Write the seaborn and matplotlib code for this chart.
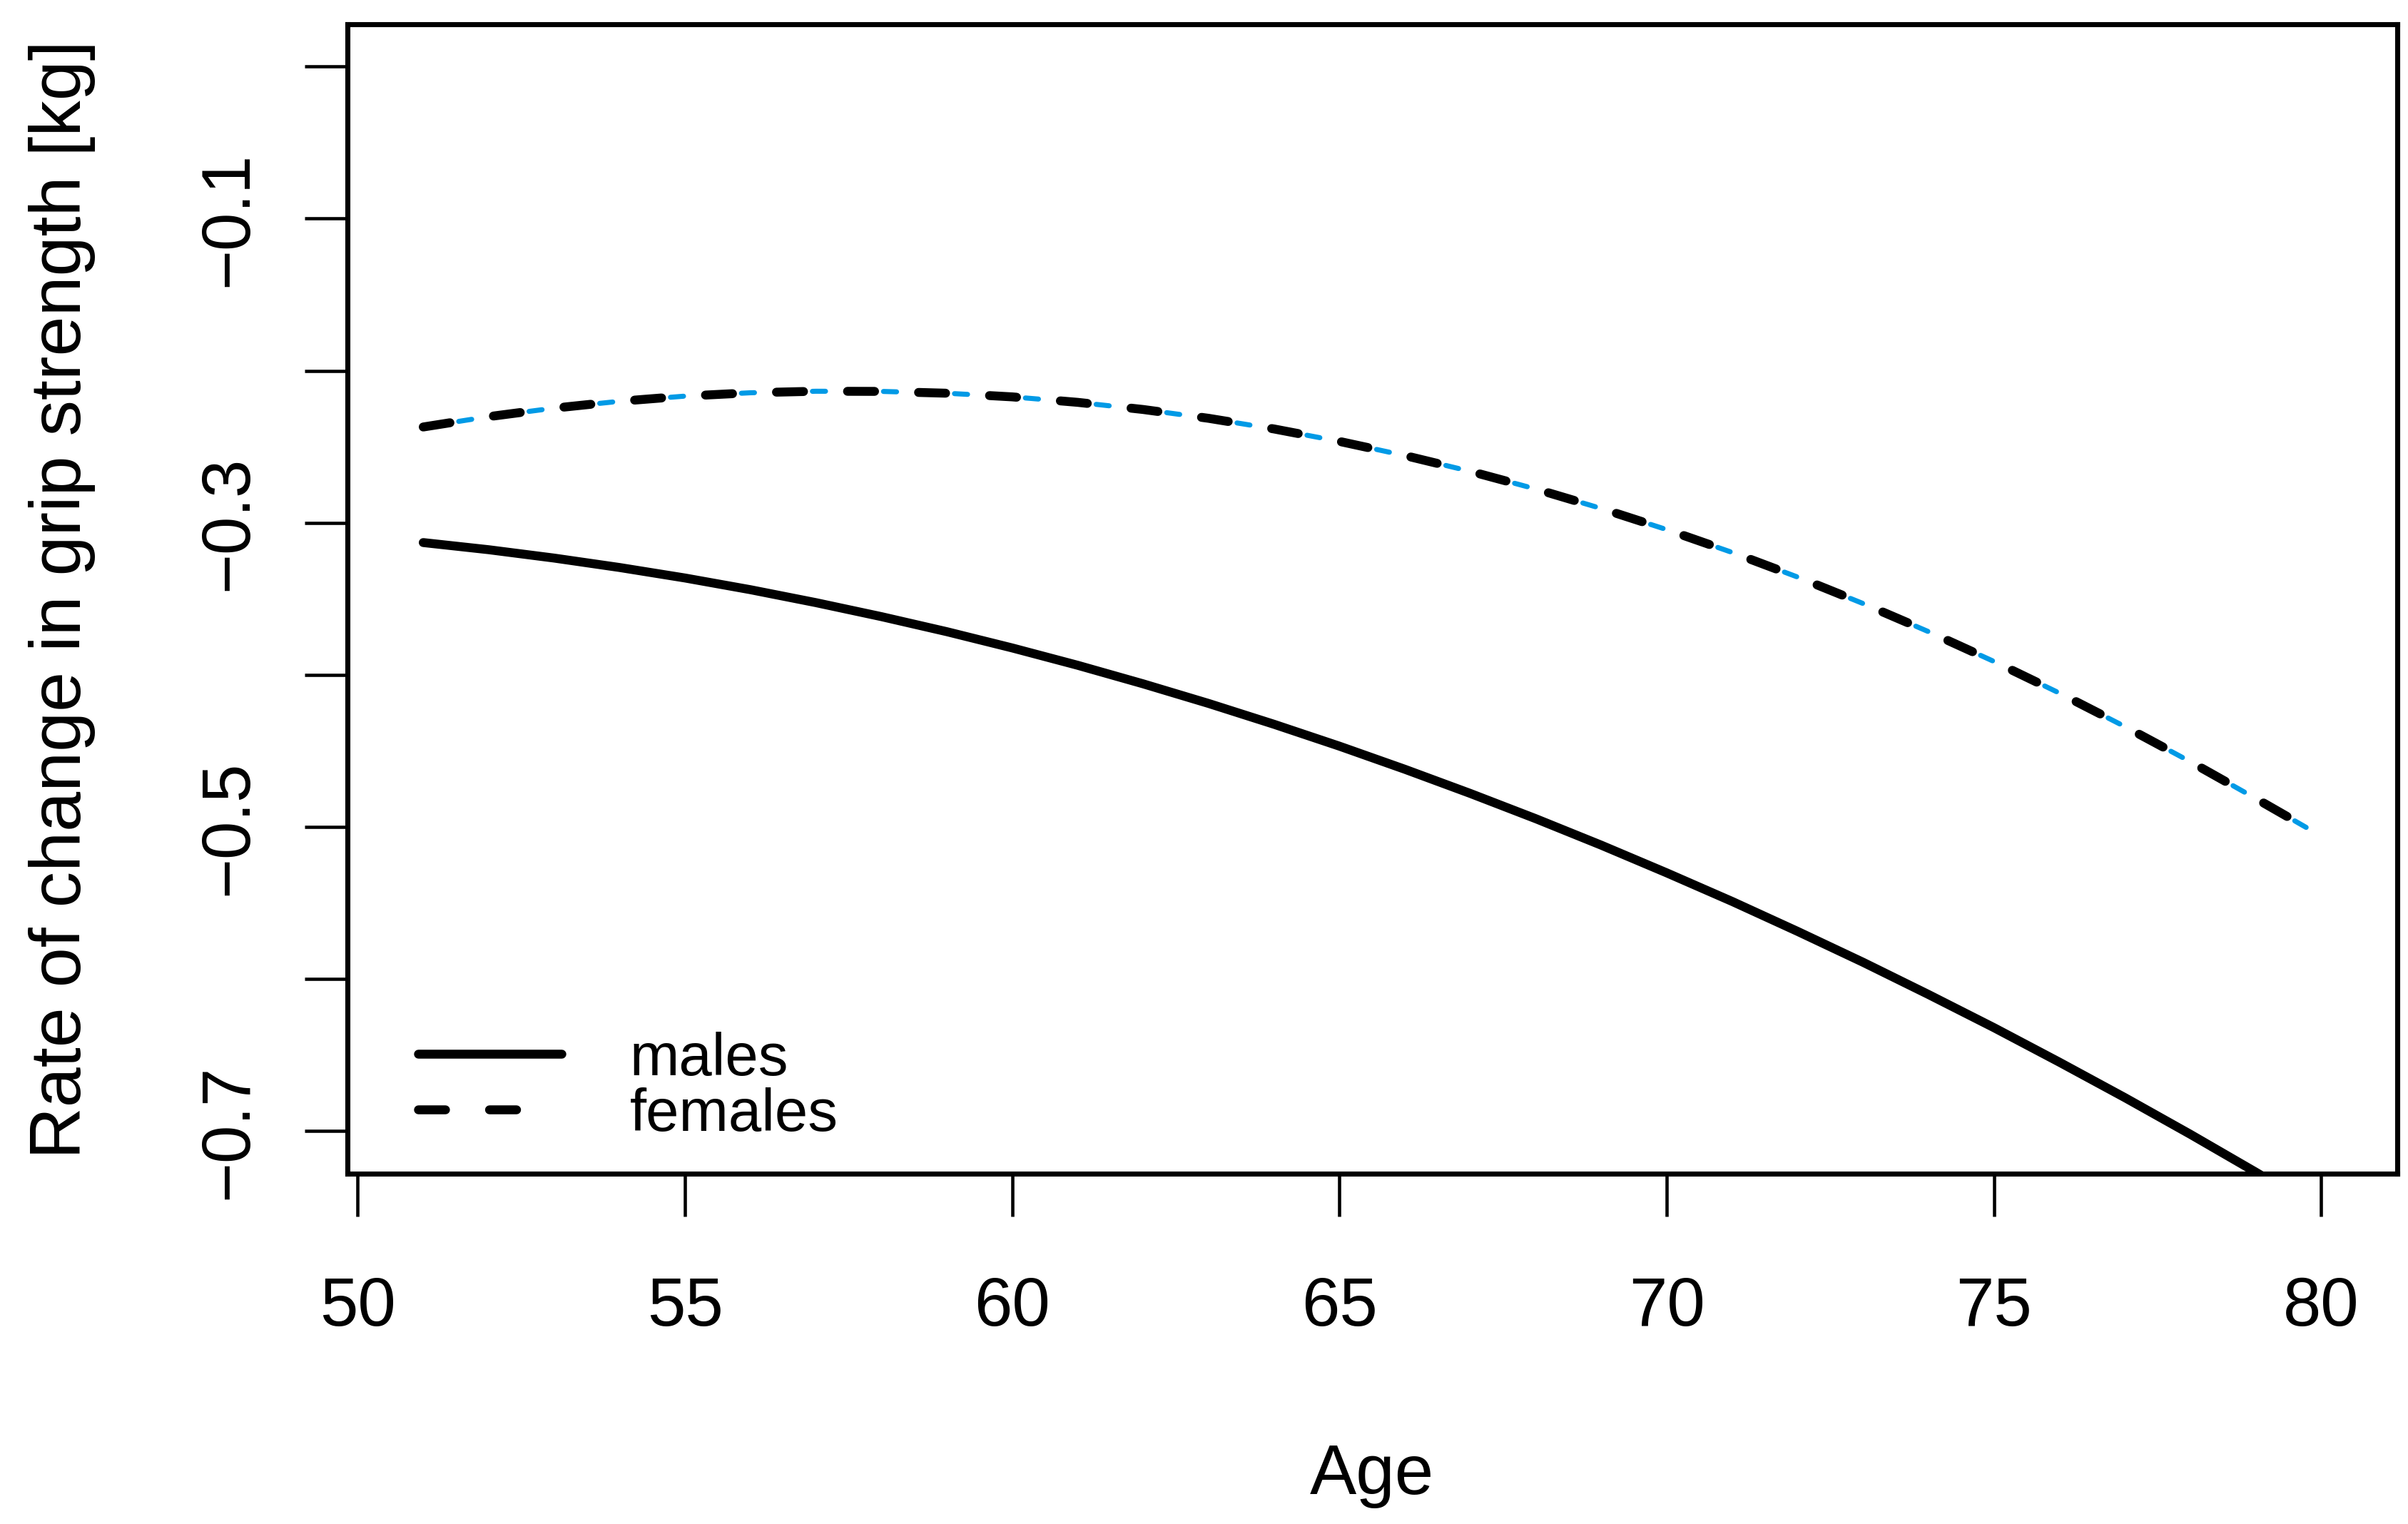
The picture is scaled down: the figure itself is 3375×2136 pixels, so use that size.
"""
Rate of change in grip strength by age, males vs females.
"""

import matplotlib
import matplotlib.pyplot as plt
from matplotlib.lines import Line2D
import pandas as pd
import seaborn as sns

matplotlib.use('Agg')
sns.set_style("white")
plt.rcParams['font.family'] = ['Liberation Sans', 'DejaVu Sans']
plt.rcParams['lines.scale_dashes'] = False
for key in ['text.color', 'axes.labelcolor', 'xtick.color', 'ytick.color', 'axes.edgecolor']:
    plt.rcParams[key] = 'black'

# values
ages = list(range(51, 81))
males = [-0.3130, -0.3177, -0.3232, -0.3294, -0.3363, -0.3440, -0.3525, -0.3617, -0.3716, -0.3823,
         -0.3937, -0.4059, -0.4188, -0.4325, -0.4469, -0.4621, -0.4780, -0.4946, -0.5120, -0.5302,
         -0.5490, -0.5687, -0.5890, -0.6102, -0.6320, -0.6547, -0.6780, -0.7021, -0.7270, -0.7526]
females = [-0.2370, -0.2302, -0.2246, -0.2201, -0.2167, -0.2145, -0.2135, -0.2136, -0.2148, -0.2172,
           -0.2208, -0.2255, -0.2313, -0.2383, -0.2465, -0.2558, -0.2662, -0.2778, -0.2906, -0.3045,
           -0.3195, -0.3357, -0.3531, -0.3716, -0.3912, -0.4120, -0.4340, -0.4571, -0.4813, -0.5060]

x_ticks = [50, 55, 60, 65, 70, 75, 80]
y_ticks = [0.0, -0.1, -0.2, -0.3, -0.4, -0.5, -0.6, -0.7]
y_tick_labels = ['', '\u22120.1', '', '\u22120.3', '', '\u22120.5', '', '\u22120.7']

df = pd.DataFrame({'age': ages, 'males': males, 'females': females})

fig = plt.figure(figsize=(11.25, 7.1233), dpi=300)
ax = fig.add_axes([0.14423, 0.22976, 0.85128, 0.75405])

# males: solid black
sns.lineplot(data=df, x='age', y='males', ax=ax, color='black', linewidth=3.0,
             solid_capstyle='round', zorder=3)
# females: thin blue dashes sitting just after the black dashes
sns.lineplot(data=df, x='age', y='females', ax=ax, color='#009ae6', linewidth=1.7,
             zorder=2)
ax.lines[-1].set_linestyle((11.8, (4.4, 19.5)))
ax.lines[-1].set_dash_capstyle('round')
sns.lineplot(data=df, x='age', y='females', ax=ax, color='black', linewidth=3.0,
             zorder=3)
ax.lines[-1].set_linestyle((0, (9.1, 14.8)))
ax.lines[-1].set_dash_capstyle('round')

ax.set_xlim(49.84, 81.16)
ax.set_ylim(-0.728, 0.028)
ax.set_xticks(x_ticks)
ax.set_xticklabels([str(t) for t in x_ticks])
ax.set_yticks(y_ticks)
ax.set_yticklabels(y_tick_labels, rotation=90, va='center')

ax.tick_params(axis='both', direction='out', length=14.5, width=1.1, color='black',
               labelsize=23, labelcolor='black', left=True, bottom=True)
ax.tick_params(axis='x', pad=19.5)
ax.tick_params(axis='y', pad=14.5)

for sp in ax.spines.values():
    sp.set_visible(True)
    sp.set_color('black')
    sp.set_linewidth(1.7)

ax.set_xlabel('Age', fontsize=23.5, labelpad=35)
ax.set_ylabel('Rate of change in grip strength [kg]', fontsize=24.2, labelpad=34)

handles = [
    Line2D([], [], color='black', lw=3.0, solid_capstyle='round'),
    Line2D([], [], color='black', lw=3.0, linestyle=(0, (9.1, 14.8, 9.1, 40)),
           dash_capstyle='round'),
]
ax.legend(handles, ['males', 'females'], loc='lower left', bbox_to_anchor=(0.0346, 0.027),
          frameon=False, fontsize=20, handlelength=2.41, handletextpad=1.15,
          labelspacing=0.0, borderpad=0, borderaxespad=0)

fig.savefig('out.png', dpi=300)
